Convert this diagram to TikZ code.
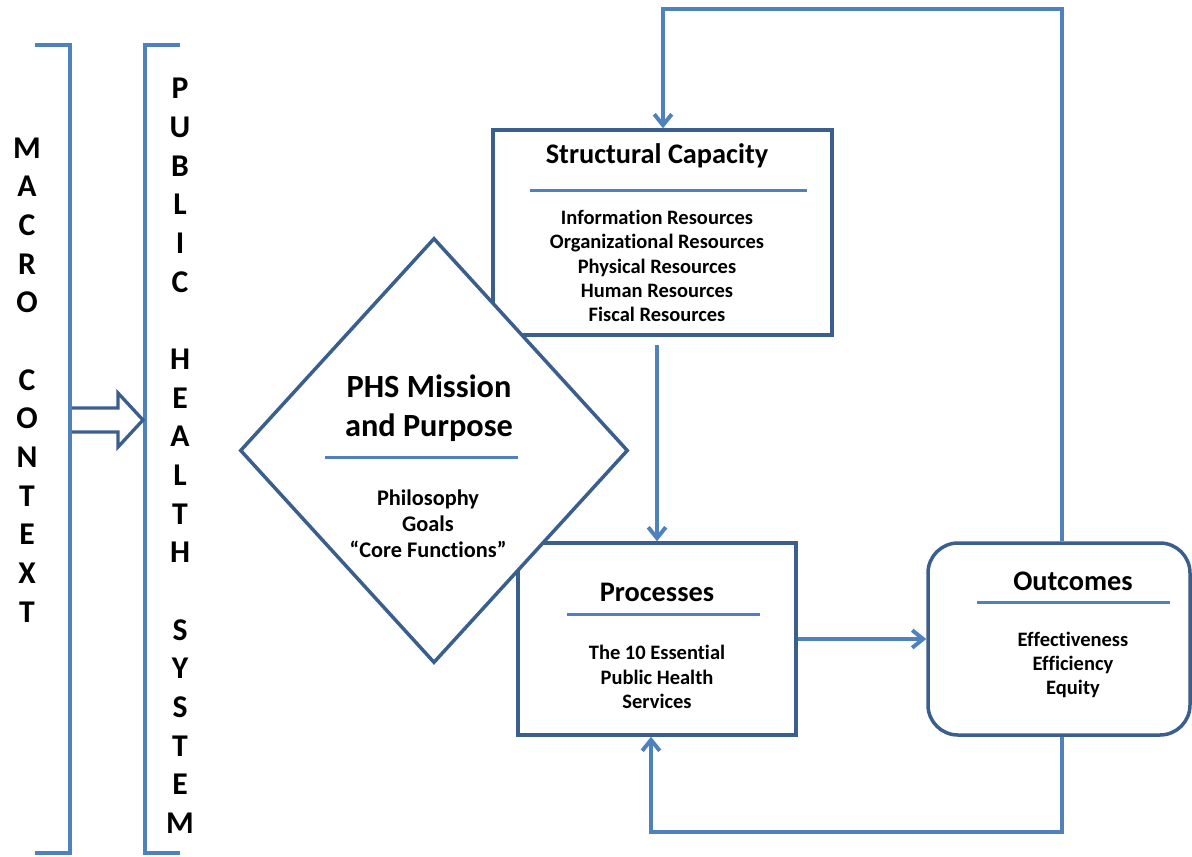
\documentclass[tikz,border=0pt]{standalone}
\usepackage{fontspec}
\setmainfont[Ligatures=NoCommon]{Carlito}
\usetikzlibrary{arrows.meta,shapes.geometric,calc}
\definecolor{lineblue}{HTML}{4F81BD}
\definecolor{edgeblue}{HTML}{3B5F8D}

\begin{document}
\begin{tikzpicture}[x=0.6pt,y=-0.6pt,
  box/.style={draw=edgeblue, line width=2.1pt, fill=white, inner sep=0pt},
  rulebar/.style={draw=lineblue, line width=1.8pt},
  link/.style={draw=lineblue, line width=2.4pt, line join=miter,
    -{Straight Barb[length=6.5pt,width=10.5pt]}},
  bracket/.style={draw=lineblue, line width=2.7pt, line join=miter},
  title/.style={font=\fontsize{17}{20}\selectfont\bfseries, inner sep=0pt},
  body/.style={font=\fontsize{12.3}{14.6}\selectfont\bfseries, align=center, inner sep=0pt},
  stack/.style={font=\fontsize{19}{23.2}\selectfont\bfseries, align=center, inner sep=0pt}
]
\useasboundingbox (0,0) rectangle (1192,856);

% outer context brackets and the entry arrow
\draw[bracket] (35,45) -- (70,45) -- (70,853) -- (35,853);
\draw[bracket] (180,45) -- (145,45) -- (145,853) -- (180,853);
\draw[edgeblue, line width=2pt, fill=white, line join=miter]
  (72,408) -- (118,408) -- (118,393) -- (143,420) -- (118,447) -- (118,432) -- (72,432);

\node[stack] (macro) at (27,380) {M\\A\\C\\R\\O\\[23.2pt]C\\O\\N\\T\\E\\X\\T};
\node[stack] (phsys) at (180,456) {P\\U\\B\\L\\I\\C\\[23.2pt]H\\E\\A\\L\\T\\H\\[23.2pt]S\\Y\\S\\T\\E\\M};

% main boxes
\node[box, minimum width=339*0.6pt, minimum height=205*0.6pt] (cap) at (662.5,232.5) {};
\node[box, minimum width=278*0.6pt, minimum height=192*0.6pt] (proc) at (657,639) {};
\node[box, rounded corners=18pt, minimum width=262*0.6pt, minimum height=192*0.6pt] (out) at (1059,639) {};
\node[box, diamond, minimum width=388*0.6pt, minimum height=425*0.6pt] (mission) at (434,450.5) {};

% structural capacity
\node[title] (capt) at (657,156) {Structural Capacity};
\draw[rulebar] (530,190) -- (807,190);
\node[body] (capb) at (657,266) {Information Resources\\Organizational Resources\\Physical Resources\\Human Resources\\Fiscal Resources};

% mission
\node[font=\fontsize{19.4}{23.4}\selectfont\bfseries, align=center, inner sep=0pt] (misst) at (429,408) {PHS Mission\\and Purpose};
\draw[rulebar] (325,457) -- (518,457);
\node[font=\fontsize{13.4}{15.6}\selectfont\bfseries, align=center, inner sep=0pt] (missb) at (428,524) {Philosophy\\Goals\\“Core Functions”};

% processes
\node[title] (proct) at (657,592) {Processes};
\draw[rulebar] (567,614) -- (760,614);
\node[body] (procb) at (657,677) {The 10 Essential\\Public Health\\Services};

% outcomes
\node[title] (outt) at (1073,581) {Outcomes};
\draw[rulebar] (977,602) -- (1170,602);
\node[body] (outb) at (1073,665) {Effectiveness\\Efficiency\\Equity};

% connectors
\coordinate (topR) at (1062,9);
\coordinate (topL) at (663,9);
\coordinate (botR) at (1062,832);
\coordinate (botL) at (651,832);

\draw[link] ($(cap.south -| proc.north)+(0,8)$) -- (proc.north);
\draw[link] (proc.east) -- (out.west);
\draw[link] (out.north -| topR) -- (topR) -- (topL) -- (topL |- cap.north);
\draw[link] (out.south -| botR) -- (botR) -- (botL) -- (botL |- proc.south);
\end{tikzpicture}
\end{document}
